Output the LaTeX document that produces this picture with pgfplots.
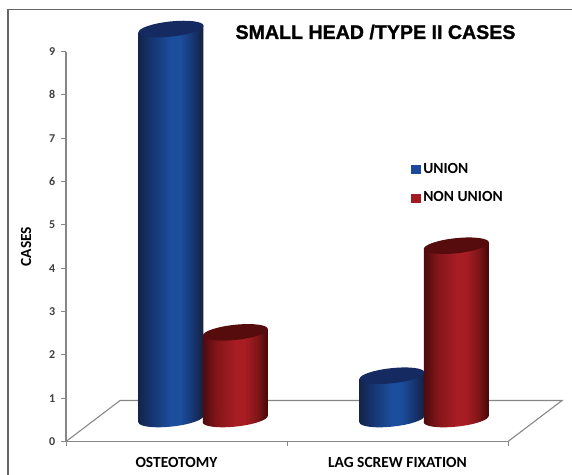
\documentclass[border=0pt]{standalone}
\usepackage{pgfplots}
\pgfplotsset{compat=1.18}
\usetikzlibrary{calc}
\usepackage{fontspec}
\setmainfont{Carlito}
\newfontfamily\titlefont{Liberation Sans}[BoldFeatures={FakeBold=1.3}]
\definecolor{axisgray}{HTML}{868686}
\definecolor{ticktext}{HTML}{3F3F3F}
\definecolor{framegray}{HTML}{666666}
\definecolor{unionblue}{HTML}{1B4A9C}
\definecolor{nonunionred}{HTML}{A01C22}
\definecolor{bluerim}{HTML}{15234A}
\definecolor{bluemid}{HTML}{153570}
\definecolor{bluepeak}{HTML}{1C4E9E}
\definecolor{bluerimr}{HTML}{17203C}
\definecolor{bluecap}{HTML}{142A60}
\definecolor{redrim}{HTML}{4E0B0D}
\definecolor{redmid}{HTML}{801519}
\definecolor{redpeak}{HTML}{A81D24}
\definecolor{redrimr}{HTML}{420909}
\definecolor{redcap}{HTML}{560C0C}

% Cylinder sides: dark at both rims, brightest a little right of centre.
\pgfdeclarehorizontalshading{cylblue}{100bp}{
  color(0bp)=(bluerim); color(25bp)=(bluerim); color(35bp)=(bluemid);
  color(50bp)=(bluepeak); color(57bp)=(bluepeak); color(67bp)=(bluemid);
  color(75bp)=(bluerimr); color(100bp)=(bluerimr)}
\pgfdeclarehorizontalshading{cylred}{100bp}{
  color(0bp)=(redrim); color(25bp)=(redrim); color(35bp)=(redmid);
  color(50bp)=(redpeak); color(57bp)=(redpeak); color(67bp)=(redmid);
  color(75bp)=(redrimr); color(100bp)=(redrimr)}

% Elliptical cylinder ends, half width equal to half the bar width.
\newcommand{\capellipse}{\pgfpathellipse{\pgfpointorigin}{\pgfqpoint{24.4pt}{0pt}}{\pgfqpoint{0pt}{5.7pt}}}
\pgfdeclareplotmark{capblue}{\capellipse\pgfsetfillcolor{bluecap}\pgfusepathqfill}
\pgfdeclareplotmark{capred}{\capellipse\pgfsetfillcolor{redcap}\pgfusepathqfill}
\pgfdeclareplotmark{baseblue}{\capellipse\pgfshadepath{cylblue}{0}\pgfusepath{discard}}
\pgfdeclareplotmark{basered}{\capellipse\pgfshadepath{cylred}{0}\pgfusepath{discard}}

\pgfplotsset{
  % Offsets a cylinder into the depth of the floor and tilts it slightly.
  cyl place/.style 2 args={cm={1,0.1,0,1,(#1pt,#2pt)}},
  cyl body/.style={ybar, bar width=48.75pt, bar shift=0pt, draw=none, forget plot},
  cyl end/.style={only marks, forget plot},
}

\begin{document}
\begin{tikzpicture}[x=0.75pt,y=0.75pt]
\path[use as bounding box, fill=white] (0,0) rectangle (572,475);
\draw[framegray, line width=1pt] (8,0) -- (8,465.5) -- (572,465.5);
\begin{axis}[
  at={(49.5pt,25.1pt)}, anchor=south west,
  scale only axis, width=331.5pt, height=292.5pt,
  xmin=0, xmax=2, ymin=0, ymax=9,
  axis x line*=bottom, axis y line*=left,
  axis line style={axisgray, line width=0.8pt, -},
  tick style={axisgray, line width=0.7pt},
  tick align=outside, major tick length=3.5pt,
  xtick={0,1,2}, x tick label as interval,
  xticklabels={OSTEOTOMY, LAG SCREW FIXATION},
  ytick={0,1,...,9},
  x tick label style={font=\fontsize{11.6}{13}\selectfont\bfseries, text=black, yshift=-4.5pt},
  y tick label style={font=\fontsize{9}{11}\selectfont\bfseries, text=ticktext, xshift=-1pt},
  /pgf/number format/assume math mode=true,
  ylabel={CASES},
  ylabel style={font=\fontsize{11.6}{13}\selectfont\bfseries, text=black, at={(axis description cs:-0.068,0.5)}},
  legend style={at={(0.78,0.723)}, anchor=north west, draw=none, fill=none,
    font=\fontsize{11.6}{13}\selectfont\bfseries, row sep=7.5pt,
    inner xsep=0pt, inner ysep=0pt, nodes={inner sep=2.4pt}},
  legend cell align=left,
  clip=false,
]
% Floor of the chart
\draw[axisgray, line width=0.8pt]
  (axis cs:0,0) -- ++(40.5pt,30.75pt) -- ($(axis cs:2,0)+(40.5pt,30.75pt)$) -- (axis cs:2,0);

% OSTEOTOMY, union
\addplot[cyl end, cyl place={-4.125}{8.6}, mark=baseblue] coordinates {(0.5,0)};
\addplot[cyl body, cyl place={-4.125}{8.6}, shading=cylblue, mark=capblue] coordinates {(0.5,9)};
% OSTEOTOMY, non union
\addplot[cyl end, cyl place={44.1}{8.6}, mark=basered] coordinates {(0.5,0)};
\addplot[cyl body, cyl place={44.1}{8.6}, shading=cylred, mark=capred] coordinates {(0.5,2)};
% LAG SCREW FIXATION, union
\addplot[cyl end, cyl place={-4.125}{-8}, mark=baseblue] coordinates {(1.5,0)};
\addplot[cyl body, cyl place={-4.125}{-8}, shading=cylblue, mark=capblue] coordinates {(1.5,1)};
% LAG SCREW FIXATION, non union
\addplot[cyl end, cyl place={44.1}{-8}, mark=basered] coordinates {(1.5,0)};
\addplot[cyl body, cyl place={44.1}{-8}, shading=cylred, mark=capred] coordinates {(1.5,4)};

\addlegendimage{legend image code/.code={\fill[unionblue] (0pt,-3.2pt) rectangle (6.4pt,2.8pt);}}
\addlegendentry{UNION}
\addlegendimage{legend image code/.code={\fill[nonunionred] (0pt,-3.2pt) rectangle (6.4pt,2.8pt);}}
\addlegendentry{NON UNION}
\end{axis}
\node[font=\titlefont\bfseries\fontsize{14.7}{17}\selectfont] at (375.5,443) {SMALL HEAD /TYPE II CASES};
\end{tikzpicture}
\end{document}
